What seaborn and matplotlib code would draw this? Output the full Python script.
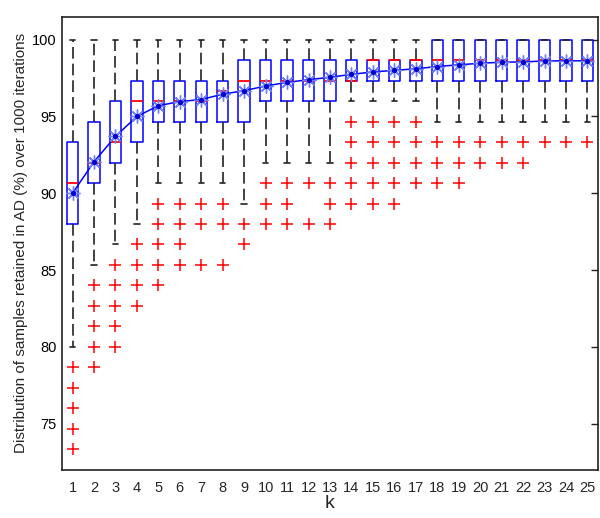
import numpy as np
import pandas as pd
import seaborn as sns
from matplotlib import pyplot as plt

sns.set_style('white')
plt.rcParams['font.family'] = ['Liberation Sans', 'DejaVu Sans']

# values (percent retained, steps of 1/75)
k = np.arange(1, 26)
q1 = [88.00, 90.67, 92.00, 93.33, 94.67, 94.67, 94.67, 94.67, 94.67, 96.00, 96.00, 96.00, 96.00,
      97.33, 97.33, 97.33, 97.33, 97.33, 97.33, 97.33, 97.33, 97.33, 97.33, 97.33, 97.33]
q3 = [93.33, 94.67, 96.00, 97.33, 97.33, 97.33, 97.33, 97.33, 98.67, 98.67, 98.67, 98.67, 98.67,
      98.67, 98.67, 98.67, 98.67, 100.0, 100.0, 100.0, 100.0, 100.0, 100.0, 100.0, 100.0]
med = [90.67, 92.00, 93.33, 96.00, 96.00, 96.00, 96.00, 96.67, 97.33, 97.33, 97.33, 97.33, 97.33,
       97.33, 98.67, 98.67, 98.67, 98.67, 98.67, 98.67, 98.67, 98.67, 98.67, 98.67, 98.67]
whislo = [80.00, 85.33, 86.67, 88.00, 90.67, 90.67, 90.67, 90.67, 89.33, 92.00, 92.00, 92.00, 92.00,
          96.00, 96.00, 96.00, 96.00, 94.67, 94.67, 94.67, 94.67, 94.67, 94.67, 94.67, 94.67]
whishi = [100.0] * 25
means = [90.00, 92.05, 93.70, 95.00, 95.70, 95.97, 96.10, 96.45, 96.68, 96.98, 97.22, 97.39, 97.55,
         97.74, 97.90, 98.00, 98.10, 98.25, 98.36, 98.46, 98.53, 98.55, 98.61, 98.62, 98.62]
outliers = [
    [78.67, 77.33, 76.00, 74.67, 73.33],
    [84.00, 82.67, 81.33, 80.00, 78.67],
    [85.33, 84.00, 82.67, 81.33, 80.00],
    [86.67, 85.33, 84.00, 82.67],
    [89.33, 88.00, 86.67, 85.33, 84.00],
    [89.33, 88.00, 86.67, 85.33],
    [89.33, 88.00, 85.33],
    [89.33, 88.00, 85.33],
    [88.00, 86.67],
    [90.67, 89.33, 88.00],
    [90.67, 89.33, 88.00],
    [90.67, 88.00],
    [90.67, 89.33, 88.00],
    [94.67, 93.33, 92.00, 90.67, 89.33],
    [94.67, 93.33, 92.00, 90.67, 89.33],
    [94.67, 93.33, 92.00, 90.67, 89.33],
    [94.67, 93.33, 92.00, 90.67],
    [93.33, 92.00, 90.67],
    [93.33, 92.00, 90.67],
    [93.33, 92.00],
    [93.33, 92.00],
    [93.33, 92.00],
    [93.33],
    [93.33],
    [93.33],
]

stats = [dict(q1=a, q3=b, med=m, whislo=lo, whishi=hi, fliers=[])
         for a, b, m, lo, hi in zip(q1, q3, med, whislo, whishi)]
df_out = pd.DataFrame([(kk, v) for kk, vals in zip(k, outliers) for v in vals], columns=['k', 'value'])
df_mean = pd.DataFrame({'k': k, 'mean': means})

fig = plt.figure(figsize=(6, 5.18), dpi=100)
ax = fig.add_axes([0.103, 0.093, 0.894, 0.875])

ax.bxp(stats, positions=k, widths=0.53, capwidths=0.25, showfliers=False,
       boxprops=dict(color='#0000ff', linewidth=1.1),
       medianprops=dict(color='#ff0000', linewidth=1.3),
       whiskerprops=dict(color='#222222', linewidth=1.2, linestyle=(0, (7, 3))),
       capprops=dict(color='#222222', linewidth=1.2))

sns.scatterplot(data=df_out, x='k', y='value', marker='+', s=72, color='#ff0000',
                linewidth=1.1, ax=ax, zorder=3)

sns.lineplot(data=df_mean, x='k', y='mean', color='#0000ff', linewidth=1.1,
             marker=(8, 2, 0), markersize=10, markeredgecolor='#7080ff', markeredgewidth=1.0,
             ax=ax, zorder=4)
sns.scatterplot(data=df_mean, x='k', y='mean', color='#0000cc', s=14, linewidth=0, ax=ax, zorder=5)

ax.set_xlim(0.5, 25.5)
ax.set_ylim(72, 101.5)
ax.set_xticks(k)
ax.set_xticklabels([str(i) for i in k])
ax.set_yticks([75, 80, 85, 90, 95, 100])
ax.tick_params(axis='y', direction='in', length=5, width=1, right=True, labelsize=10.5, colors='#222222',
               labelcolor='black')
ax.tick_params(axis='x', length=0, labelsize=10.5, pad=8)
for sp in ax.spines.values():
    sp.set_color('#222222')
    sp.set_linewidth(1.2)

ax.set_xlabel('k', fontsize=14, labelpad=0)
ax.set_ylabel('Distribution of samples retained in AD (%) over 1000 iterations', fontsize=11, labelpad=3)

fig.savefig('out.png', dpi=100)
